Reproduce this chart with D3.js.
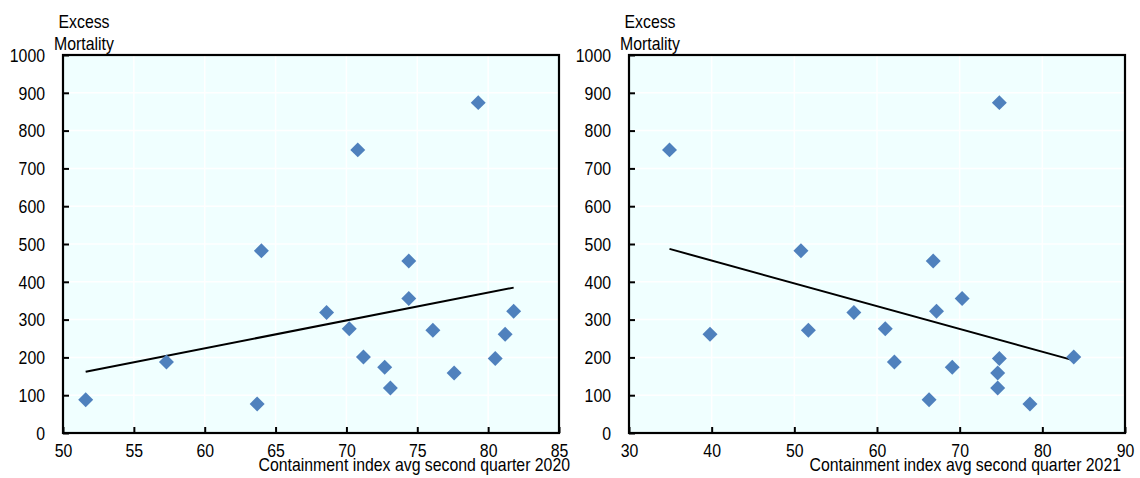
<!DOCTYPE html>
<html>
<head>
<meta charset="utf-8">
<script src="https://cdn.jsdelivr.net/npm/d3@7"></script>
<style>
  html, body { margin: 0; padding: 0; background: #ffffff; }
  svg { display: block; }
  text { font-family: "Liberation Sans Narrow", "Arial Narrow", "Liberation Sans", Arial, sans-serif; fill: #000; }
</style>
</head>
<body>
<svg id="chart" width="1140" height="478"></svg>
<script>
// Excess mortality per country (same country order in both panels)
const excessMortality = [749, 874, 482, 455, 356, 322, 319, 276, 272, 261, 201, 197, 188, 174, 159, 119, 88, 77];
// Average containment index, second quarter 2020
const containment2020 = [70.8, 79.3, 64.0, 74.4, 74.4, 81.8, 68.6, 70.2, 76.1, 81.2, 71.2, 80.5, 57.3, 72.7, 77.6, 73.1, 51.6, 63.7];
// Average containment index, second quarter 2021
const containment2021 = [34.9, 74.8, 50.8, 66.8, 70.3, 67.2, 57.2, 61.0, 51.7, 39.8, 83.8, 74.8, 62.1, 69.1, 74.6, 74.6, 66.3, 78.5];

const yTicks = [0, 100, 200, 300, 400, 500, 600, 700, 800, 900, 1000];
const xTicks2020 = [50, 55, 60, 65, 70, 75, 80, 85];
const xTicks2021 = [30, 40, 50, 60, 70, 80, 90];
const yTitle = ["Excess", "Mortality"];
const xTitle2020 = "Containment index avg second quarter 2020";
const xTitle2021 = "Containment index avg second quarter 2021";

const panels = [
  { x: containment2020, xTicks: xTicks2020, title: xTitle2020, left: 63, titleRight: 570 },
  { x: containment2021, xTicks: xTicks2021, title: xTitle2021, left: 629, titleRight: 1121 }
];

const plotTop = 55, plotW = 496, plotH = 378;
const svg = d3.select("#chart");
const FONT = '"Liberation Sans Narrow", "Arial Narrow", "Liberation Sans", Arial, sans-serif';
const SQUEEZE = 0.88; // condensed lettering

// least-squares fit of y on x
function fit(xs, ys) {
  const mx = d3.mean(xs), my = d3.mean(ys);
  let sxy = 0, sxx = 0;
  xs.forEach((v, i) => { sxy += (v - mx) * (ys[i] - my); sxx += (v - mx) * (v - mx); });
  const b = sxy / sxx;
  return v => my + b * (v - mx);
}

// place a condensed text at (x, y)
function label(parent, x, y, str, anchor) {
  return parent.append("text")
    .attr("transform", `translate(${x},${y}) scale(${SQUEEZE},1)`)
    .attr("text-anchor", anchor).attr("font-size", 18).attr("font-family", FONT)
    .text(str);
}

panels.forEach(p => {
  const g = svg.append("g").attr("transform", `translate(${p.left},${plotTop})`);
  const x = d3.scaleLinear().domain(d3.extent(p.xTicks)).range([0, plotW]);
  const y = d3.scaleLinear().domain([0, 1000]).range([plotH, 0]);

  g.append("rect").attr("width", plotW).attr("height", plotH).attr("fill", "#f0ffff");

  // white grid
  g.append("g").selectAll("line").data(yTicks.slice(1, -1)).join("line")
    .attr("x1", 0).attr("x2", plotW).attr("y1", d => y(d)).attr("y2", d => y(d))
    .attr("stroke", "#ffffff").attr("stroke-width", 1.5);
  g.append("g").selectAll("line").data(p.xTicks.slice(1, -1)).join("line")
    .attr("y1", 0).attr("y2", plotH).attr("x1", d => x(d)).attr("x2", d => x(d))
    .attr("stroke", "#ffffff").attr("stroke-width", 1.5);

  // axes with inward ticks
  const yAxis = d3.axisLeft(y).tickValues(yTicks).tickSize(-6).tickFormat(d3.format("d"));
  const xAxis = d3.axisBottom(x).tickValues(p.xTicks).tickSize(-6).tickFormat(d3.format("d"));

  const ya = g.append("g").call(yAxis);
  const xa = g.append("g").attr("transform", `translate(0,${plotH})`).call(xAxis);
  [ya, xa].forEach(a => {
    a.select(".domain").remove();
    a.selectAll(".tick line").attr("stroke", "#000").attr("stroke-width", 2);
    a.selectAll(".tick text")
      .attr("x", null).attr("y", null)
      .attr("font-size", 18).attr("font-family", FONT).attr("fill", "#000");
  });
  ya.selectAll(".tick text").attr("dy", "0.35em")
    .attr("transform", `translate(-18,0) scale(${SQUEEZE},1)`);
  xa.selectAll(".tick text").attr("dy", "0.35em")
    .attr("transform", `translate(0,17.5) scale(${SQUEEZE},1)`);

  // frame
  g.append("rect").attr("width", plotW).attr("height", plotH)
    .attr("fill", "none").attr("stroke", "#000").attr("stroke-width", 2.2);

  // trend line over the data range
  const f = fit(p.x, excessMortality);
  const [x0, x1] = d3.extent(p.x);
  g.append("line")
    .attr("x1", x(x0)).attr("y1", y(f(x0)))
    .attr("x2", x(x1)).attr("y2", y(f(x1)))
    .attr("stroke", "#000").attr("stroke-width", 2);

  // diamond markers
  const diamond = d3.symbol().type(d3.symbolSquare).size(112);
  g.append("g").selectAll("path").data(p.x).join("path")
    .attr("d", diamond)
    .attr("transform", (d, i) => `translate(${x(d)},${y(excessMortality[i])}) rotate(45)`)
    .attr("fill", "#4f81bd");

  // y-axis title
  label(svg, p.left + 21, 28, yTitle[0], "middle");
  label(svg, p.left + 21, 50, yTitle[1], "middle");

  // x-axis title
  label(svg, p.titleRight, 470.5, p.title, "end");
});
</script>
</body>
</html>
